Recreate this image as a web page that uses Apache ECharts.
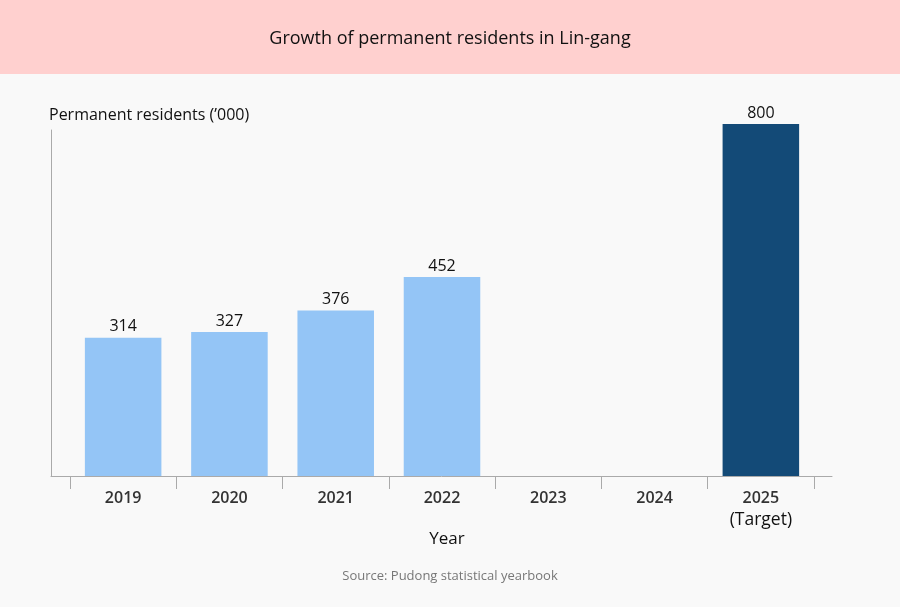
<!DOCTYPE html>
<html>
<head>
<meta charset="utf-8">
<script src="https://cdn.jsdelivr.net/npm/echarts@6/dist/echarts.min.js"></script>
<style>
html,body{margin:0;padding:0;background:#f9f9f9;}
#c{width:900px;height:607px;}
</style>
</head>
<body>
<div id="c"></div>
<script>
var categories = ['2019', '2020', '2021', '2022', '2023', '2024', '2025'];
var actualValues = [314, 327, 376, 452, null, null, null];
var targetValues = [null, null, null, null, null, null, 800];
var titleText = 'Growth of permanent residents in Lin-gang';
var yAxisName = 'Permanent residents (\u2019000)';
var xAxisName = 'Year';
var sourceText = 'Source: Pudong statistical yearbook';

var chart = echarts.init(document.getElementById('c'));
chart.setOption({
  backgroundColor: '#f9f9f9',
  animation: false,
  graphic: [
    {type: 'rect', left: 0, top: 0, z: -10, shape: {width: 900, height: 74}, style: {fill: '#ffd0cf'}},
    {type: 'text', left: 'center', top: 570, style: {text: sourceText, fill: '#777', font: '13px "Open Sans"'}}
  ],
  title: {
    text: titleText,
    left: 'center',
    top: 25,
    textStyle: {fontFamily: 'Open Sans', fontSize: 18, fontWeight: 'normal', color: '#111'}
  },
  grid: [
    {left: 70, right: 86, top: 124, bottom: 131},
    {left: 51, right: 68, top: 130, bottom: 131}
  ],
  xAxis: [
    {
      type: 'category', gridIndex: 0, data: categories,
      axisLine: {show: false},
      axisTick: {show: true, interval: 0, length: 13, lineStyle: {color: '#aaa'}},
      axisLabel: {
        interval: 0, margin: 11, color: '#333', fontFamily: 'Open Sans', fontSize: 16, fontWeight: 600, lineHeight: 22,
        formatter: function (v, i) { return i === 6 ? v + '\n{t|(Target)}' : v; },
        rich: {t: {fontFamily: 'Open Sans', fontSize: 17.5, fontWeight: 'normal', color: '#111', lineHeight: 23}}
      },
      name: xAxisName, nameLocation: 'middle', nameGap: 55, nameMoveOverlap: false,
      nameTextStyle: {fontFamily: 'Open Sans', fontSize: 17, color: '#111', padding: [0, 0, 0, 10]}
    },
    {
      type: 'value', gridIndex: 1, min: 0, max: 1,
      axisLine: {show: true, lineStyle: {color: '#aaa'}},
      axisTick: {show: false}, axisLabel: {show: false}, splitLine: {show: false}
    }
  ],
  yAxis: [
    {
      type: 'value', gridIndex: 0, min: 0, max: 800,
      axisLine: {show: false}, axisTick: {show: false}, axisLabel: {show: false}, splitLine: {show: false}
    },
    {
      type: 'value', gridIndex: 1, min: 0, max: 1,
      axisLine: {show: true, lineStyle: {color: '#aaa'}},
      axisTick: {show: false}, axisLabel: {show: false}, splitLine: {show: false},
      name: yAxisName, nameLocation: 'end', nameGap: 7,
      nameTextStyle: {align: 'left', fontFamily: 'Open Sans', fontSize: 16, color: '#111', padding: [0, 0, 0, -2]}
    }
  ],
  series: [
    {
      type: 'bar', xAxisIndex: 0, yAxisIndex: 0, data: actualValues, barWidth: '72%', barGap: '-100%',
      itemStyle: {color: '#94c5f6'},
      label: {show: true, position: 'top', distance: 3, color: '#111', fontFamily: 'Open Sans', fontSize: 16}
    },
    {
      type: 'bar', xAxisIndex: 0, yAxisIndex: 0, data: targetValues, barWidth: '72%', barGap: '-100%',
      itemStyle: {color: '#134a77'},
      label: {show: true, position: 'top', distance: 3, color: '#111', fontFamily: 'Open Sans', fontSize: 16}
    }
  ]
});
</script>
</body>
</html>
